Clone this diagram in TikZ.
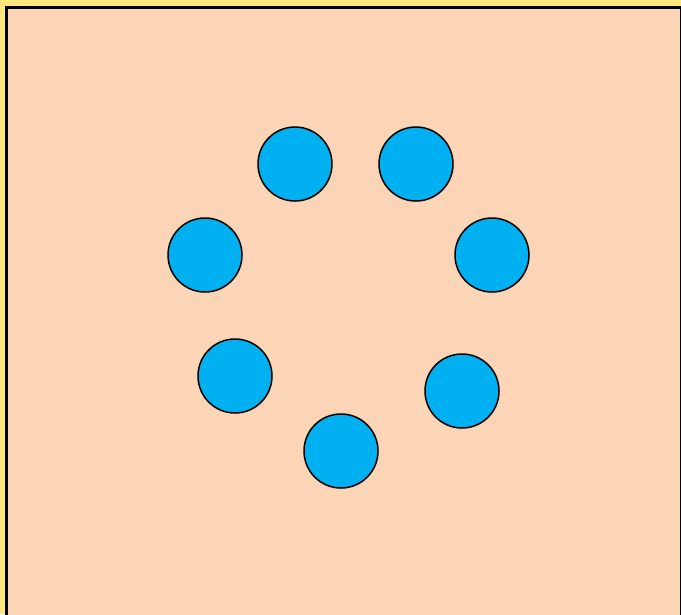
\documentclass[tikz,border=0pt]{standalone}
\definecolor{bgyellow}{HTML}{FFE680}
\definecolor{peach}{HTML}{FBD5B5}
\definecolor{dotblue}{HTML}{00B0F0}
\begin{document}
\begin{tikzpicture}[x=1pt,y=-1pt,
  dot/.style={circle,draw=black,line width=1.5pt,fill=dotblue,minimum size=74pt,inner sep=0pt}]
\useasboundingbox (0,0) rectangle (681,614);
\fill[bgyellow] (0,0) rectangle (681,614);
\draw[fill=peach,line width=3pt] (6.5,7.5) rectangle (681.5,630);
\node[dot] (c1) at (295,164) {};
\node[dot] (c2) at (416,164) {};
\node[dot] (c3) at (205,255) {};
\node[dot] (c4) at (492,255) {};
\node[dot] (c5) at (235,376) {};
\node[dot] (c6) at (462,391) {};
\node[dot] (c7) at (341,451) {};
\end{tikzpicture}
\end{document}
